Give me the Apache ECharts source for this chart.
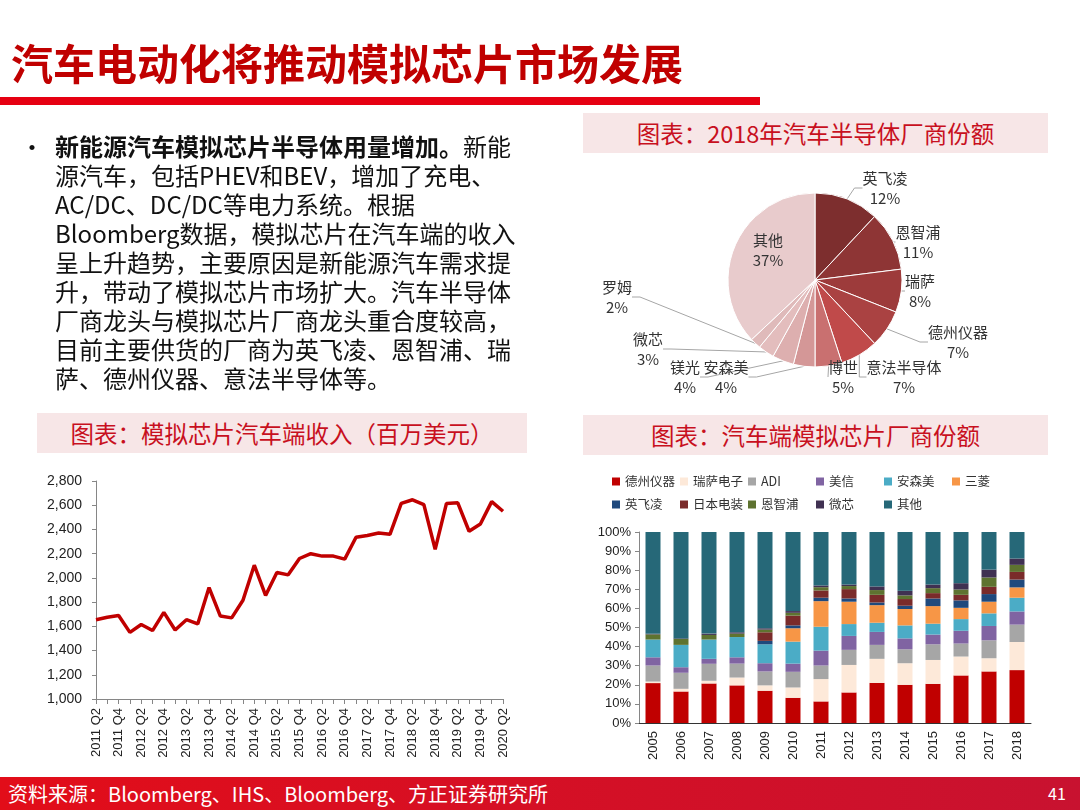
<!DOCTYPE html>
<html><head><meta charset="utf-8">
<script src="https://cdn.jsdelivr.net/npm/echarts@6/dist/echarts.min.js"></script>
<style>
body{margin:0;background:#fff;}
#wrap{position:relative;width:1080px;height:810px;background:#fff;overflow:hidden;font-family:"Noto Sans CJK SC",sans-serif;}
#chart{position:absolute;left:0;top:0;width:1080px;height:810px;}
.abs{position:absolute;pointer-events:none;white-space:nowrap;}
.box{position:absolute;background:#f7e6e7;color:#c8101e;text-align:center;font-size:23.5px;line-height:40px;height:40px;}
</style></head>
<body><div id="wrap">
<div id="chart"></div>
<div class="abs" style="left:11px;top:41px;font-size:42px;line-height:42px;font-weight:bold;color:#c00000;">汽车电动化将推动模拟芯片市场发展</div>
<div class="abs" style="left:0;top:97px;width:760px;height:8px;background:#e60012;"></div>
<div class="abs" style="left:20px;top:131px;font-size:24px;line-height:29px;color:#111;">•</div>
<div class="abs" style="left:55px;top:131px;font-size:24px;line-height:29px;color:#111;">
<b>新能源汽车模拟芯片半导体用量增加。</b>新能<br>源汽车，包括PHEV和BEV，增加了充电、<br>AC/DC、DC/DC等电力系统。根据<br>Bloomberg数据，模拟芯片在汽车端的收入<br>呈上升趋势，主要原因是新能源汽车需求提<br>升，带动了模拟芯片市场扩大。汽车半导体<br>厂商龙头与模拟芯片厂商龙头重合度较高，<br>目前主要供货的厂商为英飞凌、恩智浦、瑞<br>萨、德州仪器、意法半导体等。</div>
<div class="box" style="left:583px;top:113px;width:465px;">图表：2018年汽车半导体厂商份额</div>
<div class="box" style="left:37px;top:413px;width:490px;">图表：模拟芯片汽车端收入（百万美元）</div>
<div class="box" style="left:583px;top:415px;width:465px;">图表：汽车端模拟芯片厂商份额</div>
<div class="abs" style="left:0;top:777px;width:1080px;height:33px;background:linear-gradient(90deg,#e20d19,#c81230);"></div>
<div class="abs" style="left:8px;top:777px;font-size:20px;line-height:33px;color:#fff;">资料来源：Bloomberg、IHS、Bloomberg、方正证券研究所</div>
<div class="abs" style="left:1048px;top:777px;font-size:16px;line-height:33px;color:#fff;">41</div>
</div>
<script>
// ---- line chart data ----
const quarters = ["2011 Q2","2011 Q3","2011 Q4","2012 Q1","2012 Q2","2012 Q3","2012 Q4","2013 Q1","2013 Q2","2013 Q3","2013 Q4","2014 Q1","2014 Q2","2014 Q3","2014 Q4","2015 Q1","2015 Q2","2015 Q3","2015 Q4","2016 Q1","2016 Q2","2016 Q3","2016 Q4","2017 Q1","2017 Q2","2017 Q3","2017 Q4","2018 Q1","2018 Q2","2018 Q3","2018 Q4","2019 Q1","2019 Q2","2019 Q3","2019 Q4","2020 Q1","2020 Q2"];
const revenue = [1655,1675,1690,1550,1615,1565,1715,1570,1655,1620,1920,1685,1670,1815,2105,1855,2045,2025,2160,2200,2180,2180,2155,2335,2350,2370,2360,2615,2645,2605,2235,2615,2620,2385,2445,2630,2550];

// ---- pie data ----
const pieNames = ["英飞凌","恩智浦","瑞萨","德州仪器","意法半导体","博世","安森美","镁光","微芯","罗姆","其他"];
const pieValues = [12,11,8,7,7,5,4,4,3,2,37];
const pieColors = ["#7d2e2e","#8e3535","#9d3b3b","#aa4242","#c04a4a","#c97070","#d49797","#ddafaf","#e3bdbd","#dfbaba","#e8cbcc"];

// ---- stacked bar data ----
const years = ["2005","2006","2007","2008","2009","2010","2011","2012","2013","2014","2015","2016","2017","2018"];
const barNames = ["德州仪器","瑞萨电子","ADI","美信","安森美","三菱","英飞凌","日本电装","恩智浦","微芯","其他"];
const barColors = ["#c00000","#fde9d9","#a6a6a6","#8064a2","#4bacc6","#f79646","#1f497d","#7a2b2a","#5e7330","#403152","#266878"];
const ti        = [20.9,16.5,20.7,19.7,16.9,13.2,11.3,16.0,21.0,20.0,20.5,24.9,27.0,27.7];
const renesas   = [0.8,1.4,1.4,4.1,2.8,5.4,11.7,14.4,12.6,11.3,12.5,9.9,6.9,14.7];
const adi       = [8.4,8.4,8.9,7.3,7.3,8.2,7.1,7.9,7.3,7.3,8.2,6.8,9.4,9.1];
const maxim     = [4.3,2.9,2.6,3.3,4.3,4.3,7.8,7.3,6.8,5.7,5.1,6.7,7.5,6.9];
const onsemi    = [9.3,11.7,10.1,10.6,9.9,11.5,12.5,6.2,4.8,6.8,5.7,6.1,6.6,7.2];
const mitsubishi= [0,0,0,0,0,7.0,13.4,11.7,9.2,8.6,9.2,5.9,6.1,5.4];
const infineon  = [0,0,0,0,1.8,1.5,1.8,1.7,1.4,1.7,4.0,3.9,4.0,4.1];
const denso     = [0,0,0,0,4.5,5.1,3.8,4.9,4.0,3.5,2.8,2.9,3.8,4.0];
const nxp       = [2.7,3.1,2.4,1.8,1.4,1.5,1.7,1.6,2.5,1.9,2.6,2.8,4.9,3.7];
const microchip = [0.3,0.3,0.7,0.7,0.7,0.9,0.9,0.8,1.9,2.4,1.9,3.3,4.1,3.3];
const others    = [53.3,55.7,53.2,52.5,50.4,41.4,28.0,27.5,28.5,30.8,27.5,26.8,19.7,13.9];
const barSeriesData = [ti,renesas,adi,maxim,onsemi,mitsubishi,infineon,denso,nxp,microchip,others];

const labelPos = [[885,188],[918,242],[920,291],[958,342],[904,377],[843,377],[726,377],[685,377],[648,349],[617,297],[768,250]];

const axisFont = "Liberation Sans, Arial, sans-serif";
const cjkFont = "Noto Sans CJK SC, sans-serif";

const chart = echarts.init(document.getElementById('chart'), null, {renderer:'canvas'});
const option = {
  animation:false,
  grid:[
    {left:96, right:577, top:481, bottom:111},
    {left:639, right:49, top:532, bottom:87}
  ],
  legend:{
    data:barNames, left:612, top:472, width:420, padding:0,
    itemWidth:8, itemHeight:8, itemGap:4, icon:'rect',
    textStyle:{fontSize:12.5, color:'#333', width:51, lineHeight:19, fontFamily:cjkFont}
  },
  xAxis:[
    {type:'category', gridIndex:0, data:quarters, boundaryGap:false,
     axisLine:{lineStyle:{color:'#868686'}},
     axisTick:{show:true, interval:0, length:5, lineStyle:{color:'#868686'}},
     axisLabel:{interval:1, rotate:90, fontSize:13, color:'#222', fontFamily:axisFont, margin:9}},
    {type:'category', gridIndex:1, data:years,
     axisLine:{lineStyle:{color:'#333'}},
     axisTick:{show:false},
     axisLabel:{rotate:90, fontSize:13, color:'#222', fontFamily:axisFont, margin:8}}
  ],
  yAxis:[
    {type:'value', gridIndex:0, min:1000, max:2800, interval:200,
     splitLine:{show:false},
     axisLine:{show:true, lineStyle:{color:'#868686'}},
     axisTick:{show:true, length:4, lineStyle:{color:'#868686'}},
     axisLabel:{fontSize:14, color:'#222', fontFamily:axisFont, margin:14,
       formatter:v=>v.toLocaleString('en-US')}},
    {type:'value', gridIndex:1, min:0, max:100, interval:10,
     splitLine:{show:false},
     axisLine:{show:true, lineStyle:{color:'#868686'}},
     axisTick:{show:true, length:4, lineStyle:{color:'#868686'}},
     axisLabel:{fontSize:13, color:'#222', fontFamily:axisFont, margin:8, formatter:'{value}%'}}
  ],
  series:[
    {type:'line', name:'收入', xAxisIndex:0, yAxisIndex:0, data:revenue,
     symbol:'none', lineStyle:{color:'#c00000', width:3.5}, itemStyle:{color:'#c00000'}},
    ...barNames.map((n,i)=>({
      type:'bar', name:n, stack:'share', xAxisIndex:1, yAxisIndex:1,
      data:barSeriesData[i], barWidth:15, itemStyle:{color:barColors[i]}
    })),
    {type:'pie', name:'2018份额', center:[815,280], radius:87, startAngle:90,
     data:pieNames.map((n,i)=>({name:n, value:pieValues[i],
        itemStyle:{color:pieColors[i]},
        labelLine:{show:n!=='其他'}})),
     itemStyle:{borderColor:'#fff', borderWidth:1},
     label:{show:true, formatter:'{b}\n{c}%', fontSize:15, lineHeight:20, color:'#333', fontFamily:cjkFont},
     labelLine:{show:true, length:8, length2:8, lineStyle:{color:'#a6a6a6', width:1}},
     labelLayout:function(p){
       const pos = labelPos[p.dataIndex];
       return {x:pos[0], y:pos[1], align:'center', verticalAlign:'middle'};
     },
     emphasis:{disabled:true}
    }
  ]
};
chart.setOption(option);
</script>
</body></html>
